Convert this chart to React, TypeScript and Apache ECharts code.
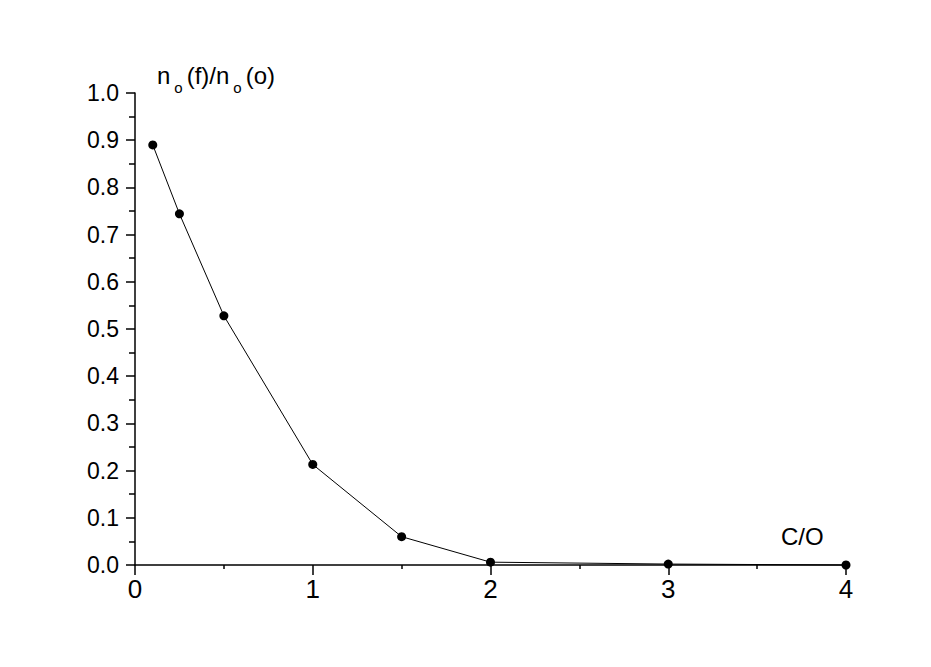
import React, { useEffect, useRef } from "react";
import * as echarts from "echarts";

const xValues = [0.1, 0.25, 0.5, 1, 1.5, 2, 3, 4];
const yValues = [0.89, 0.744, 0.528, 0.213, 0.06, 0.006, 0.002, 0.0];
const xTicks = [0, 1, 2, 3, 4];
const yTicks = [0, 0.1, 0.2, 0.3, 0.4, 0.5, 0.6, 0.7, 0.8, 0.9, 1.0];

export default function App() {
  const ref = useRef<HTMLDivElement>(null);
  useEffect(() => {
    if (!ref.current) return;
    const chart = echarts.init(ref.current, null, { renderer: "svg" });
    const font = "'Liberation Sans', Arial, sans-serif";
    chart.setOption({
      animation: false,
      backgroundColor: "#ffffff",
      grid: { left: 127, top: 85, right: 77, bottom: 94, containLabel: false },
      xAxis: {
        type: "value",
        min: xTicks[0],
        max: xTicks[xTicks.length - 1],
        interval: 1,
        axisLine: { show: true, onZero: false, lineStyle: { color: "#000", width: 1.5 } },
        axisTick: { show: true, inside: false, length: 10, lineStyle: { color: "#000", width: 1.5 } },
        minorTick: { show: true, splitNumber: 2, length: 4, lineStyle: { color: "#000", width: 1.5 } },
        splitLine: { show: false },
        axisLabel: { color: "#000", fontSize: 26, fontFamily: font, margin: 11 },
      },
      yAxis: {
        type: "value",
        min: yTicks[0],
        max: yTicks[yTicks.length - 1],
        interval: 0.1,
        axisLine: { show: true, onZero: false, lineStyle: { color: "#000", width: 1.5 } },
        axisTick: { show: true, inside: false, length: 9, lineStyle: { color: "#000", width: 1.5 } },
        minorTick: { show: true, splitNumber: 2, length: 6, lineStyle: { color: "#000", width: 1.5 } },
        splitLine: { show: false },
        axisLabel: {
          color: "#000",
          fontSize: 23,
          fontFamily: font,
          margin: 16,
          formatter: (v: number) => v.toFixed(1),
        },
      },
      graphic: [
        {
          type: "text",
          left: 149,
          top: 55,
          style: {
            text: "{n|n}{s|o}{n|(f)/n}{s|o}{n|(o)}",
            rich: {
              n: { fontSize: 24, fontFamily: font, fill: "#000", lineHeight: 30, verticalAlign: "top" },
              s: { fontSize: 15, fontFamily: font, fill: "#000", lineHeight: 30, padding: [17, 4, 0, 4], verticalAlign: "top" },
            },
          },
        },
        {
          type: "text",
          left: 773,
          top: 516,
          style: { text: "C/O", fontSize: 24, fontFamily: font, fill: "#000" },
        },
      ],
      series: [
        {
          type: "line",
          data: xValues.map((x, i) => [x, yValues[i]]),
          symbol: "circle",
          symbolSize: 9,
          showSymbol: true,
          clip: false,
          lineStyle: { color: "#000", width: 1 },
          itemStyle: { color: "#000" },
        },
      ],
    });
    return () => chart.dispose();
  }, []);
  return <div ref={ref} style={{ width: 915, height: 651 }} />;
}
